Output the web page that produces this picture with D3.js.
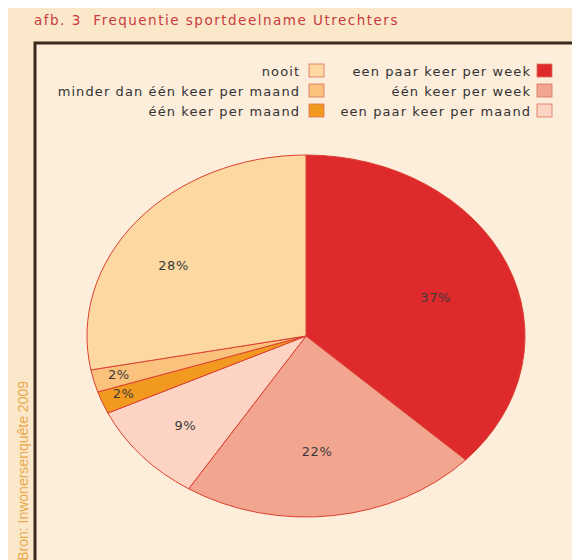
<!DOCTYPE html>
<html>
<head>
<meta charset="utf-8">
<script src="https://cdn.jsdelivr.net/npm/d3@7"></script>
<style>
  body { margin: 0; background: #fff; }
  svg { display: block; }
</style>
</head>
<body>
<svg id="chart"></svg>
<script>
// data
var categories = ["een paar keer per week", "één keer per week", "een paar keer per maand",
                  "één keer per maand", "minder dan één keer per maand", "nooit"];
var values = [37, 22, 9, 2, 2, 28];
var colors = ["#de2a2c", "#f2a58f", "#fdd4c3", "#f29a1f", "#fbc27e", "#fdd9a1"];
// legend columns
var legendLeft = ["nooit", "minder dan één keer per maand", "één keer per maand"];
var legendRight = ["een paar keer per week", "één keer per week", "een paar keer per maand"];

var W = 572, H = 560;
var font = "DejaVu Sans, sans-serif";
var svg = d3.select("#chart").attr("width", W).attr("height", H);

// page background
svg.append("rect").attr("x", 8).attr("y", 8).attr("width", W - 8).attr("height", H - 8).attr("fill", "#fbe8cb");

svg.append("text")
  .attr("x", 34).attr("y", 25)
  .attr("font-family", font)
  .attr("font-size", 13.5)
  .attr("letter-spacing", 1.5)
  .attr("fill", "#c93a3c")
  .attr("xml:space", "preserve")
  .text("afb. 3  Frequentie sportdeelname Utrechters");

// inner panel
svg.append("rect").attr("x", 35).attr("y", 43).attr("width", W).attr("height", H)
  .attr("fill", "#fdeedb").attr("stroke", "#3b2a1c").attr("stroke-width", 3);

// source text
svg.append("text")
  .attr("transform", "translate(28,381) rotate(-90)")
  .attr("text-anchor", "end")
  .attr("font-family", "Liberation Sans Narrow, Liberation Sans, sans-serif")
  .attr("font-size", 14)
  .attr("fill", "#eaa94a")
  .text("Bron: Inwonersenquête 2009");

// pie (elliptical)
var cx = 306, cy = 336, rx = 219, ry = 181;
var pie = d3.pie().sort(null).value(function (d) { return d; });
var arcs = pie(values);
var arc = d3.arc().innerRadius(0).outerRadius(rx);

var g = svg.append("g").attr("transform", "translate(" + cx + "," + cy + ") scale(1," + (ry / rx) + ")");
g.selectAll("path")
  .data(arcs)
  .join("path")
  .attr("d", arc)
  .attr("fill", function (d, i) { return colors[i]; })
  .attr("stroke", "#dc4030")
  .attr("stroke-width", 1)
  .attr("vector-effect", "non-scaling-stroke");

// labels: radius fraction and angle nudge (degrees) per slice
var labelR = [0.63, 0.64, 0.74, 0.89, 0.88, 0.72];
var labelShift = [3.4, 2.7, -0.5, 1, 0.6, -6.7];
function labelAngle(d, i) {
  return (d.startAngle + d.endAngle) / 2 + labelShift[i] * Math.PI / 180;
}
svg.append("g").selectAll("text")
  .data(arcs)
  .join("text")
  .attr("x", function (d, i) { return cx + Math.sin(labelAngle(d, i)) * rx * labelR[i]; })
  .attr("y", function (d, i) { return cy - Math.cos(labelAngle(d, i)) * ry * labelR[i] + 5; })
  .attr("text-anchor", "middle")
  .attr("font-family", font)
  .attr("font-size", 13)
  .attr("letter-spacing", 0.6)
  .attr("fill", "#3a3a3a")
  .text(function (d) { return d.data + "%"; });

// legend
function legendCol(items, textRight, boxX) {
  var lg = svg.append("g");
  items.forEach(function (name, i) {
    var y = 71 + i * 20;
    lg.append("text")
      .attr("x", textRight + 1.1).attr("y", y + 5)
      .attr("text-anchor", "end")
      .attr("font-family", font)
      .attr("font-size", 13)
      .attr("letter-spacing", 1.1)
      .attr("fill", "#333")
      .text(name);
    lg.append("rect")
      .attr("x", boxX).attr("y", y - 7)
      .attr("width", 15).attr("height", 13)
      .attr("fill", colors[categories.indexOf(name)])
      .attr("stroke", "#d9705a").attr("stroke-width", 0.8);
  });
}
legendCol(legendLeft, 299, 309);
legendCol(legendRight, 530, 537);
</script>
</body>
</html>
